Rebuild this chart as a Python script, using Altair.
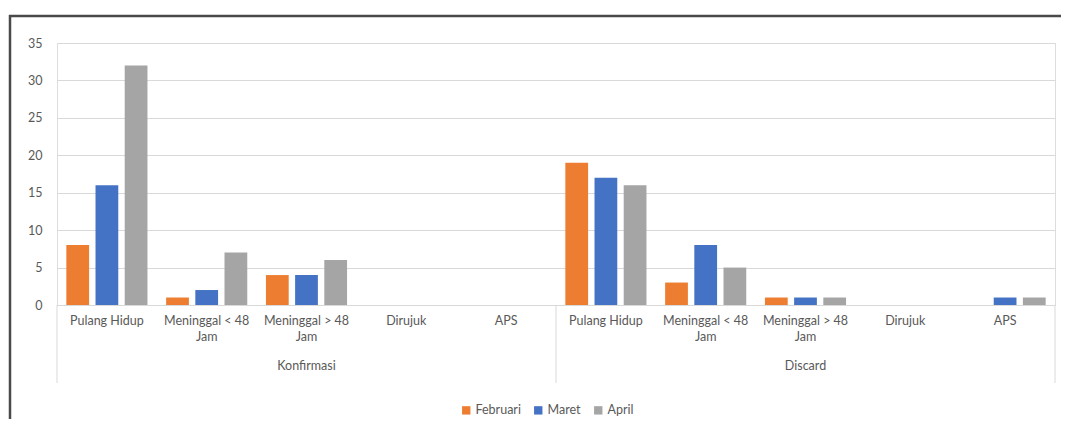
import altair as alt
import pandas as pd

# ---- data ----
groups = ["Konfirmasi", "Discard"]
categories = ["Pulang Hidup", "Meninggal < 48 Jam", "Meninggal > 48 Jam", "Dirujuk", "APS"]
months = ["Februari", "Maret", "April"]
februari = [8, 1, 4, 0, 0, 19, 3, 1, 0, 0]
maret = [16, 2, 4, 0, 0, 17, 8, 1, 0, 1]
april = [32, 7, 6, 0, 0, 16, 5, 1, 0, 1]
y_ticks = [0, 5, 10, 15, 20, 25, 30, 35]
colors = ["#ED7D31", "#4472C4", "#A5A5A5"]

W, H = 998, 262
FONT = "Lato"
FS = 12.5
TXT = "#595959"


def wrap(name):
    # split long category names into two lines like the original
    if len(name) > 14:
        head, tail = name.rsplit(" ", 1)
        return head + "~" + tail
    return name


keys = []
rows = []
i = 0
for g in groups:
    for c in categories:
        key = g[0] + "~" + wrap(c)
        keys.append(key)
        for m, series in zip(months, [februari, maret, april]):
            rows.append({"key": key, "group": g, "category": c,
                         "month": m, "value": series[i]})
        i += 1
df = pd.DataFrame(rows)

x_scale = alt.Scale(domain=keys, paddingInner=0, paddingOuter=0)

bars = alt.Chart(df).mark_bar().encode(
    x=alt.X("key:N", scale=x_scale, sort=keys,
            axis=alt.Axis(title=None, labelAngle=0, ticks=False, domain=True,
                          domainColor="#D9D9D9", labelPadding=9,
                          labelExpr="split(slice(datum.label, 2), '~')",
                          labelLineHeight=16, labelBaseline="top",
                          labelFont=FONT, labelFontSize=FS, labelColor=TXT,
                          labelLimit=200)),
    xOffset=alt.XOffset("month:N", sort=months,
                        scale=alt.Scale(domain=months, paddingInner=0.22, paddingOuter=0.32)),
    y=alt.Y("value:Q", scale=alt.Scale(domain=[0, 35], nice=False),
            axis=alt.Axis(title=None, values=y_ticks, ticks=False, domain=False,
                          gridColor="#D9D9D9", labelPadding=15,
                          labelFont=FONT, labelFontSize=FS, labelColor=TXT)),
    color=alt.Color("month:N", sort=months,
                    scale=alt.Scale(domain=months, range=colors),
                    legend=alt.Legend(title=None, orient="none", direction="horizontal",
                                      legendX=403, legendY=361, symbolType="square",
                                      symbolSize=70, symbolStrokeWidth=0,
                                      labelFont=FONT, labelFontSize=FS, labelColor=TXT,
                                      labelOffset=3, columnPadding=11)),
)

# group labels (Konfirmasi / Discard) centred under their 5 categories
gdf = pd.DataFrame({"key": [keys[2], keys[7]], "group": groups})
group_text = alt.Chart(gdf).mark_text(font=FONT, fontSize=FS, color=TXT,
                                      baseline="middle").encode(
    x=alt.X("key:N", scale=x_scale, sort=keys),
    y=alt.value(H + 61),
    text="group:N",
)

# separators between the two groups
sep_start = alt.Chart(pd.DataFrame({"key": [keys[0], keys[5]]})).mark_rule(
    color="#D9D9D9", strokeWidth=1).encode(
    x=alt.X("key:N", scale=x_scale, sort=keys, bandPosition=0),
    y=alt.value(H), y2=alt.value(H + 78),
)
sep_end = alt.Chart(pd.DataFrame({"key": [keys[-1]]})).mark_rule(
    color="#D9D9D9", strokeWidth=1).encode(
    x=alt.X("key:N", scale=x_scale, sort=keys, bandPosition=1),
    y=alt.value(H), y2=alt.value(H + 78),
)

# outer frame of the picture (only top and left edges are visible)
one = pd.DataFrame({"a": [0]})
frame_top = alt.Chart(one).mark_rule(color="#4a4a4a", strokeWidth=2.5).encode(
    x=alt.value(-48), x2=alt.value(W + 6), y=alt.value(-27),
)
frame_left = alt.Chart(one).mark_rule(color="#4a4a4a", strokeWidth=2.5).encode(
    x=alt.value(-47), y=alt.value(-28), y2=alt.value(H + 200),
)

chart = alt.layer(frame_top, frame_left, bars, sep_start, sep_end, group_text).properties(
    width=W, height=H,
    autosize=alt.AutoSizeParams(type="none"),
    padding={"left": 49, "top": 35, "right": 6, "bottom": 114},
).configure_view(stroke=None).configure(background="white")

chart.save("out.html", embed_options={"renderer": "svg", "actions": False})
